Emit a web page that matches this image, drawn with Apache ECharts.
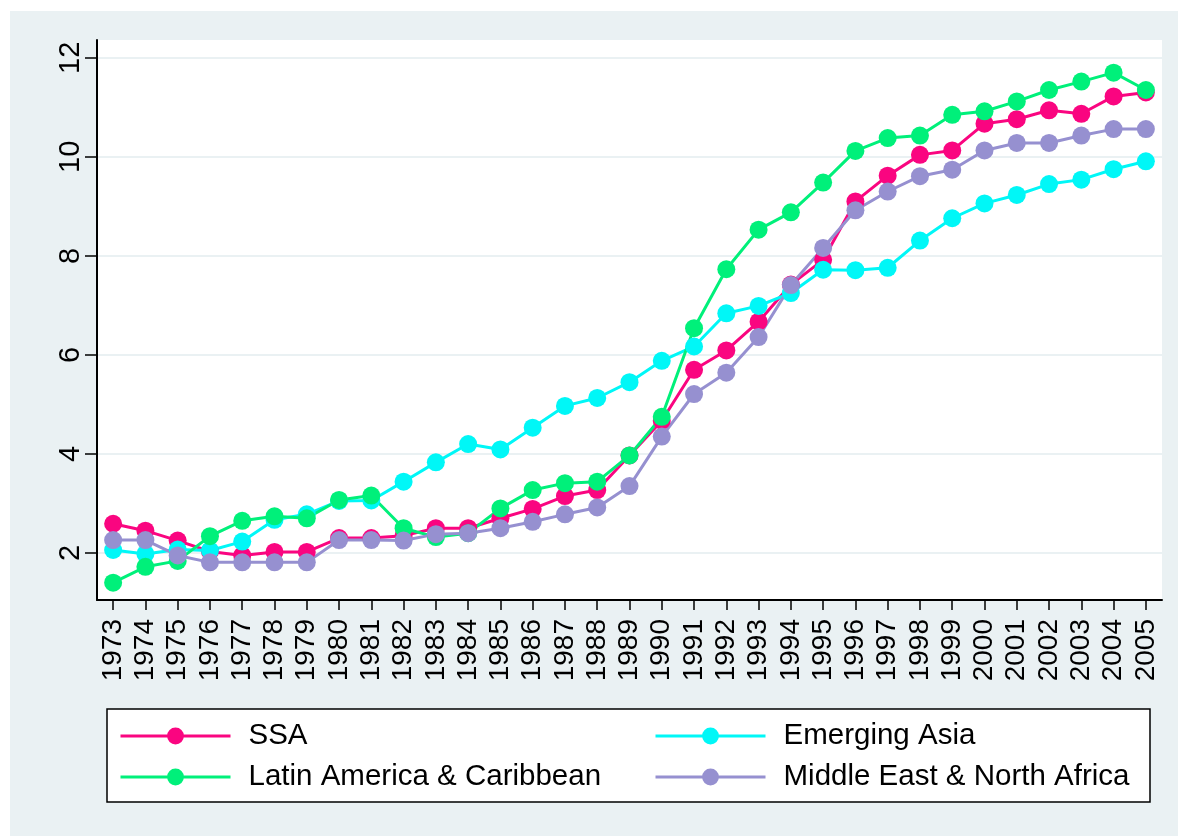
<!DOCTYPE html>
<html>
<head>
<meta charset="utf-8">
<script src="https://cdn.jsdelivr.net/npm/echarts@6/dist/echarts.min.js"></script>
<style>
    html, body { margin: 0; padding: 0; background: #fff; }
    #bg { position: absolute; left: 10px; top: 11px; width: 1168px; height: 825px; background: #eaf1f3; }
    #main { position: absolute; left: 0; top: 0; width: 1178px; height: 836px; }
</style>
</head>
<body>
<div id="bg"></div>
<div id="main"></div>
<script>
// years on the x axis
const years = ['1973', '1974', '1975', '1976', '1977', '1978', '1979', '1980', '1981', '1982',
    '1983', '1984', '1985', '1986', '1987', '1988', '1989', '1990', '1991', '1992',
    '1993', '1994', '1995', '1996', '1997', '1998', '1999', '2000', '2001', '2002',
    '2003', '2004', '2005']

const ssa = [2.59, 2.45, 2.25, 2.03, 1.95, 2.02, 2.02, 2.30, 2.30, 2.35,
    2.50, 2.50, 2.70, 2.89, 3.15, 3.27, 3.97, 4.67, 5.70, 6.09,
    6.67, 7.42, 7.92, 9.10, 9.62, 10.04, 10.13, 10.67, 10.76, 10.94,
    10.87, 11.22, 11.30]
const asia = [2.06, 1.98, 2.07, 2.05, 2.23, 2.67, 2.78, 3.05, 3.06, 3.44,
    3.83, 4.20, 4.09, 4.53, 4.97, 5.13, 5.45, 5.88, 6.17, 6.84,
    6.99, 7.25, 7.72, 7.71, 7.76, 8.31, 8.76, 9.06, 9.23, 9.45,
    9.54, 9.75, 9.91]
const latin = [1.40, 1.72, 1.84, 2.34, 2.65, 2.74, 2.70, 3.07, 3.16, 2.50,
    2.32, 2.40, 2.90, 3.27, 3.41, 3.44, 3.97, 4.75, 6.54, 7.73,
    8.53, 8.88, 9.48, 10.12, 10.38, 10.43, 10.85, 10.92, 11.12, 11.35,
    11.52, 11.70, 11.35]
const mena = [2.26, 2.26, 1.95, 1.81, 1.81, 1.81, 1.81, 2.26, 2.26, 2.25,
    2.38, 2.40, 2.50, 2.63, 2.78, 2.92, 3.35, 4.35, 5.21, 5.64,
    6.36, 7.41, 8.16, 8.92, 9.30, 9.61, 9.74, 10.13, 10.28, 10.28,
    10.43, 10.56, 10.56]

const yTicks = [2, 4, 6, 8, 10, 12]

const font = 'Liberation Sans, Arial, sans-serif'

function mkSeries(name, data, color) {
    return {
        name: name,
        type: 'line',
        data: data,
        symbol: 'circle',
        symbolSize: 18,
        lineStyle: { color: color, width: 3 },
        itemStyle: { color: color },
        emphasis: { disabled: true }
    }
}

// one legend per key so the two columns line up
function mkLegend(name, left, top) {
    return {
        data: [name],
        left: left,
        top: top,
        padding: 0,
        itemWidth: 110,
        itemHeight: 21,
        selectedMode: false,
        lineStyle: { width: 3 },
        textStyle: { fontFamily: font, fontSize: 29.5, color: '#000', lineHeight: 32, padding: [0, 0, 0, 13] }
    }
}

const myChart = echarts.init(document.querySelector('#main'))
const option = {
    animation: false,
    backgroundColor: 'transparent',
    graphic: [{
        type: 'rect',
        z: 1,
        shape: { x: 107, y: 709, width: 1043, height: 93 },
        style: { fill: '#fff', stroke: '#000', lineWidth: 1.5 }
    }],
    grid: {
        left: 97, right: 16, top: 40, bottom: 236,
        show: true, backgroundColor: '#fff', borderWidth: 0
    },
    legend: [
        mkLegend('SSA', 119, 720),
        mkLegend('Emerging Asia', 654, 720),
        mkLegend('Latin America & Caribbean', 119, 761),
        mkLegend('Middle East & North Africa', 654, 761)
    ],
    xAxis: {
        type: 'category',
        data: years,
        boundaryGap: true,
        axisLine: { lineStyle: { color: '#000', width: 2 } },
        axisTick: { show: true, length: 10, alignWithLabel: true, lineStyle: { color: '#000', width: 1.5 } },
        axisLabel: { rotate: 90, interval: 0, margin: 19, fontFamily: font, fontSize: 28, color: '#000' },
        splitLine: { show: false }
    },
    yAxis: {
        type: 'value',
        min: 1.05,
        max: 12.36,
        splitNumber: 5,
        axisLine: { show: true, lineStyle: { color: '#000', width: 2 } },
        axisTick: { show: true, length: 12, customValues: yTicks, lineStyle: { color: '#000', width: 1.5 } },
        axisLabel: { rotate: 90, margin: 12, customValues: yTicks, fontFamily: font, fontSize: 29, color: '#000' },
        splitLine: { show: true, lineStyle: { color: '#eaf1f3', width: 2 } }
    },
    series: [
        mkSeries('SSA', ssa, '#fa0580'),
        mkSeries('Emerging Asia', asia, '#00f7f7'),
        mkSeries('Latin America & Caribbean', latin, '#00f07a'),
        mkSeries('Middle East & North Africa', mena, '#9690d0')
    ]
}
myChart.setOption(option)
</script>
</body>
</html>
